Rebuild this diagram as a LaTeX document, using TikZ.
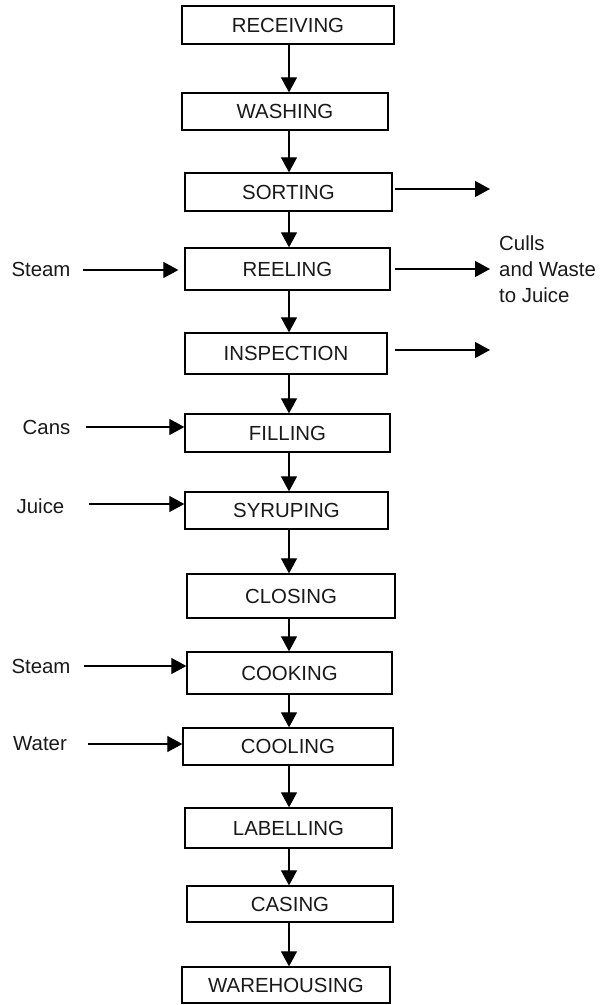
\documentclass[tikz,border=0pt]{standalone}
\usepackage{fontspec}
\setmainfont{Liberation Sans}
\usetikzlibrary{arrows.meta}
\tikzset{
  box/.style={draw=black, line width=1.3pt, inner sep=0pt, fill=white, text=black!90},
  arr/.style={draw=black, line width=1.2pt, -{Triangle[length=15pt,width=16pt]}},
  lab/.style={inner sep=0pt, text=black!90}
}
\begin{document}
\begin{tikzpicture}[x=1pt,y=-1pt,font=\fontsize{20.4}{26}\selectfont]
\useasboundingbox (0,0) rectangle (604,1005);
% process boxes
\node[box, minimum width=212pt, minimum height=38pt] (b1) at (288,25) {RECEIVING};
\node[box, minimum width=206pt, minimum height=37pt] (b2) at (285,111.5) {WASHING};
\node[box, minimum width=207pt, minimum height=38pt] (b3) at (288.5,192) {SORTING};
\node[box, minimum width=205pt, minimum height=42pt] (b4) at (287.5,269) {REELING};
\node[box, minimum width=202pt, minimum height=41pt] (b5) at (286,353.5) {INSPECTION};
\node[box, minimum width=205pt, minimum height=38pt] (b6) at (287.5,433) {FILLING};
\node[box, minimum width=203pt, minimum height=37pt] (b7) at (286.5,510.5) {SYRUPING};
\node[box, minimum width=208pt, minimum height=44pt] (b8) at (291,596) {CLOSING};
\node[box, minimum width=205pt, minimum height=42pt] (b9) at (289.5,673) {COOKING};
\node[box, minimum width=210pt, minimum height=37pt] (b10) at (288,746.5) {COOLING};
\node[box, minimum width=207pt, minimum height=40pt] (b11) at (288.5,828) {LABELLING};
\node[box, minimum width=206pt, minimum height=36pt] (b12) at (290,904) {CASING};
\node[box, minimum width=208pt, minimum height=36pt] (b13) at (286,985) {WAREHOUSING};
% main flow (vertical line on x = 289)
\coordinate (axis) at (289,0);
\foreach \a/\b in {b1/b2,b2/b3,b3/b4,b4/b5,b5/b6,b6/b7,b7/b8,b8/b9,b9/b10,b10/b11,b11/b12,b12/b13}
  \draw[arr] (axis |- \a.south) -- (axis |- \b.north);
% outputs on the right
\coordinate (o1) at (490,189);
\coordinate (o2) at (490,269);
\coordinate (o3) at (490,350);
\coordinate (rx) at (395,0);
\draw[arr] (rx |- o1) -- (o1);
\draw[arr] (rx |- o2) -- (o2);
\draw[arr] (rx |- o3) -- (o3);
\node[lab, anchor=west, align=left] (culls) at (499,269) {Culls\\and Waste\\to Juice};
% inputs on the left
\node[lab] (steamA) at (41,269) {Steam};
\node[lab] (cans) at (46.5,427) {Cans};
\node[lab] (juice) at (40.5,506) {Juice};
\node[lab] (steamB) at (41,666) {Steam};
\node[lab] (water) at (40,744) {Water};
\coordinate (i1) at (83,270);
\coordinate (i2) at (86,427);
\coordinate (i3) at (89,504);
\coordinate (i4) at (84,666);
\coordinate (i5) at (88,744);
\draw[arr] (i1) -- ([xshift=-6pt]b4.west |- i1);
\draw[arr] (i2) -- (b6.west |- i2);
\draw[arr] (i3) -- (b7.west |- i3);
\draw[arr] (i4) -- (b9.west |- i4);
\draw[arr] (i5) -- (b10.west |- i5);
\end{tikzpicture}
\end{document}
